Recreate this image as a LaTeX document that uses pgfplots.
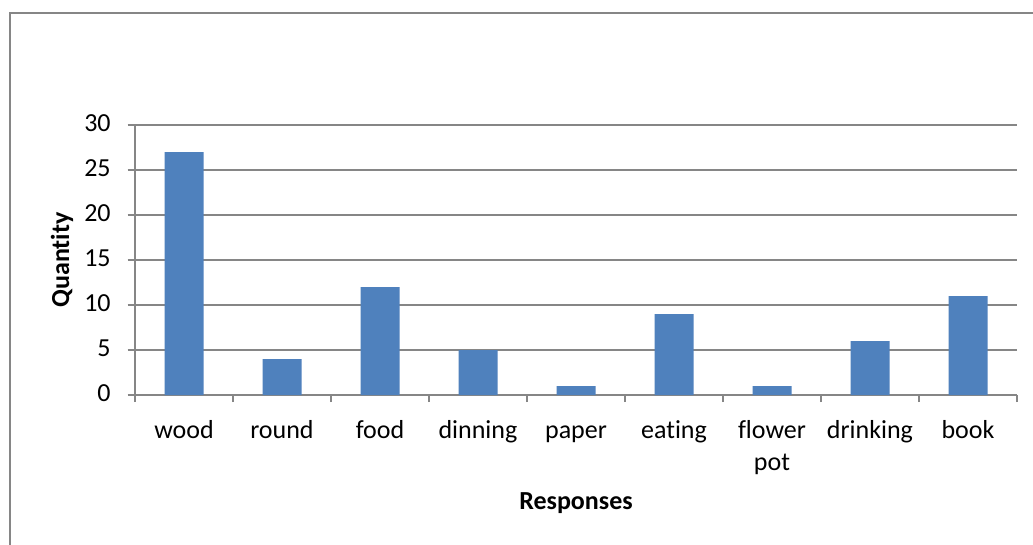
\documentclass[border=0pt]{standalone}
\usepackage{pgfplots}
\pgfplotsset{compat=1.18}
\usepackage{fontspec}
\setmainfont{Carlito}[Ligatures=NoCommon]
\definecolor{axisgray}{HTML}{868686}
\definecolor{barblue}{HTML}{4F81BD}
\begin{document}
\begin{tikzpicture}
\clip (0,0) rectangle (413.2pt,-217.6pt);
\fill[white] (0,0) rectangle (413.2pt,-217.6pt);
\draw[axisgray, line width=0.6pt] (4pt,-5.2pt) rectangle (440pt,-240pt);
\begin{axis}[
  at={(54pt,-158pt)}, anchor=south west,
  scale only axis, width=352.8pt, height=108pt,
  xmin=-0.5, xmax=8.5, ymin=0, ymax=30,
  axis x line*=bottom, axis y line*=left,
  axis line style={draw=axisgray, line width=0.5pt},
  ybar, bar width=15.6pt,
  xtick={0,...,8},
  xticklabels={wood,round,food,dinning,paper,eating,flower\\pot,drinking,book},
  typeset ticklabels with strut,
  xticklabel style={align=center, anchor=north, yshift=-2pt},
  yticklabel style={xshift=-3.2pt},
  major x tick style={draw=none},
  minor xtick={-0.5,0.5,...,8.5},
  minor tick length=2.8pt,
  ytick={0,5,...,30},
  major tick length=3pt,
  tick align=outside,
  tick style={draw=axisgray, line width=0.5pt},
  ymajorgrids, grid style={draw=axisgray, line width=0.5pt},
  /pgf/number format/assume math mode=true,
  tick label style={font=\fontsize{10.4}{12.7}\selectfont},
  label style={font=\fontsize{10.4}{12.7}\selectfont\bfseries},
  xlabel={Responses},
  ylabel={Quantity},
  xlabel style={at={(axis description cs:0.5,-0.4)}, anchor=center},
  ylabel style={at={(axis description cs:-0.0828,0.5)}, anchor=center},
]
\addplot[fill=barblue, draw=none] coordinates {
  (0,27) (1,4) (2,12) (3,5) (4,1) (5,9) (6,1) (7,6) (8,11)
};
\end{axis}
\end{tikzpicture}
\end{document}
